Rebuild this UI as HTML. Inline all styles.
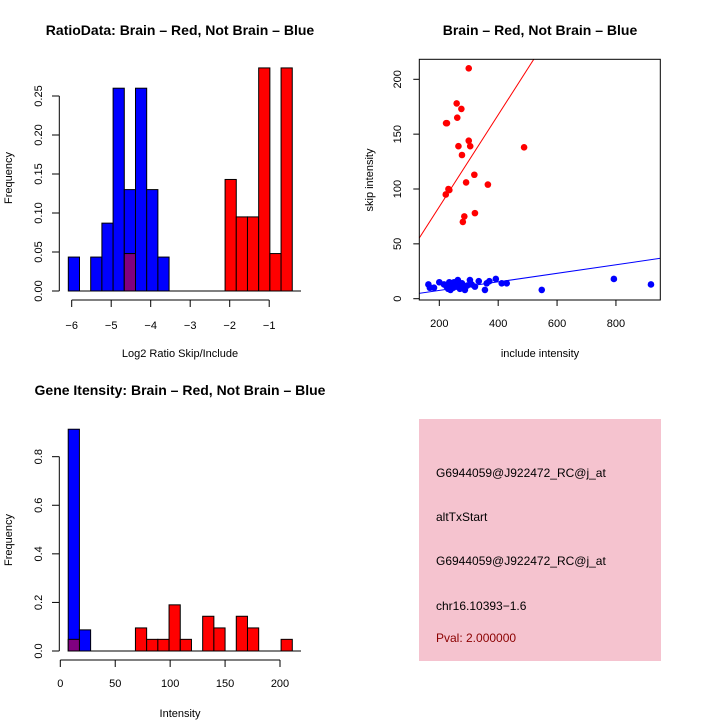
<!DOCTYPE html>
<html><head><meta charset="utf-8"><style>
body{margin:0;background:#fff;}
svg{display:block;font-family:"Liberation Sans",sans-serif;}
</style></head><body>
<svg id="s" width="720" height="720" viewBox="0 0 720 720">
<rect width="720" height="720" fill="#fff"/>
</svg>
<script>
// Panel 1: log2 ratio histogram
const ratioBinStart = -6.086, ratioBinWidth = 0.2835;
const ratioBlue = [0.0435,0,0.0435,0.087,0.26,0.13,0.26,0.13,0.0435];
const ratioRedStartBin = 14;
const ratioRed = [0.143,0.095,0.095,0.286,0.048,0.286];
const ratioOverlapBin = 5, ratioOverlap = 0.048;
const ratioXTicks = [-6,-5,-4,-3,-2,-1];
const ratioYTicks = ["0.00","0.05","0.10","0.15","0.20","0.25"];
// Panel 2: scatter
const redX = [300,259,275,261,223,226,300,265,305,277,488,319,291,365,231,234,222,285,280,321];
const redY = [210,178,173,165,160,160,144,139,139,131,138,113,106,104,100,99,95,75,70,78];
const blueX = [163,168,182,200,216,225,234,238,247,254,263,270,277,287,295,304,321,334,355,361,370,392,412,429,548,793,919,240,258,283,230,250,268,310];
const blueY = [13,10,10,15,13,11,15,8,10,12,17,9,14,8,12,17,11,16,8,14,16,18,14,14,8,18,13,13,11,10,9,15,12,13];
const redLine = [0,0.419];
const blueLine = [-0.25,0.039];
const scatXTicks = [200,400,600,800];
const scatYTicks = [0,50,100,150,200];
// Panel 3: intensity histogram
const intBinStart = 7.2, intBinWidth = 10.2;
const intBlue = [0.913,0.087];
const intRedStartBin = 6;
const intRed = [0.095,0.048,0.048,0.19,0.048,0,0.143,0.095,0,0.143,0.095,0,0,0.048];
const intOverlapBin = 0, intOverlap = 0.048;
const intXTicks = [0,50,100,150,200];
const intYTicks = ["0.0","0.2","0.4","0.6","0.8"];

const S = document.getElementById('s');
const NS = 'http://www.w3.org/2000/svg';
function mk(tag, a, txt){const e=document.createElementNS(NS,tag);for(const k in a)e.setAttribute(k,a[k]);if(txt!=null)e.textContent=txt;S.appendChild(e);return e;}
function line(x1,y1,x2,y2,c,w){return mk('line',{x1,y1,x2,y2,stroke:c||'#000','stroke-width':w||1});}

// ---------- Panel 1 ----------
const p1x = v => 71.7 + (v + 6) * 39.5;
const p1y = v => 291 - v * 780;
function hbar(x0,x1,h,fill,ymap,name){
  const r = mk('rect',{x:x0,y:ymap(h),width:x1-x0,height:ymap(0)-ymap(h),fill,stroke:'#000','stroke-width':1});
  
  
}
ratioBlue.forEach((h,i)=>{ if(h>0){ const a=ratioBinStart+i*ratioBinWidth; hbar(p1x(a),p1x(a+ratioBinWidth),h,'#0000ff',p1y,'blue-bar-'+i);} });
ratioRed.forEach((h,i)=>{ if(h>0){ const a=ratioBinStart+(ratioRedStartBin+i)*ratioBinWidth; hbar(p1x(a),p1x(a+ratioBinWidth),h,'#ff0000',p1y,'red-bar-'+i);} });
{const a=ratioBinStart+ratioOverlapBin*ratioBinWidth; hbar(p1x(a),p1x(a+ratioBinWidth),ratioOverlap,'#800080',p1y,'overlap-bar');}
line(p1x(ratioBinStart),291,301,291);
line(59.3,p1y(0),59.3,p1y(0.25));
ratioYTicks.forEach(t=>{const y=p1y(+t);line(52,y,59.3,y);const tx=mk('text',{x:42,y:y,'font-size':11,'text-anchor':'middle',transform:`rotate(-90 42 ${y})`},t);});
line(p1x(-6),300,p1x(-1),300);
ratioXTicks.forEach(t=>{const x=p1x(t);line(x,300,x,307);mk('text',{x:x,y:329,'font-size':11,'text-anchor':'middle'},'\u2212'+Math.abs(t));});
mk('text',{x:180,y:35,'font-size':14,'font-weight':'bold','text-anchor':'middle'},'RatioData: Brain \u2013 Red, Not Brain \u2013 Blue');
mk('text',{x:180,y:357,'font-size':11,'text-anchor':'middle'},'Log2 Ratio Skip/Include');
mk('text',{x:12,y:178,'font-size':11,'text-anchor':'middle',transform:'rotate(-90 12 178)'},'Frequency');

// ---------- Panel 2 ----------
const L=419.3,R=660.3,T=59.3,B=300;
const p2x = v => 439.3 + (v - 200) * 0.2944;
const p2y = v => 298.7 - v * 1.097;
const cp = mk('clipPath',{id:'cp'}); const cr=document.createElementNS(NS,'rect');
cr.setAttribute('x',L);cr.setAttribute('y',T);cr.setAttribute('width',R-L);cr.setAttribute('height',B-T);cp.appendChild(cr);
function fitLine(c,col,name){const xa=100,xb=1000;const l=mk('line',{x1:p2x(xa),y1:p2y(c[0]+c[1]*xa),x2:p2x(xb),y2:p2y(c[0]+c[1]*xb),stroke:col,'stroke-width':1,'clip-path':'url(#cp)'});}
fitLine(redLine,'#ff0000','red-fit-line');
fitLine(blueLine,'#0000ff','blue-fit-line');
redX.forEach((x,i)=>{const c=mk('circle',{cx:p2x(x),cy:p2y(redY[i]),r:3.3,fill:'#ff0000'});});
blueX.forEach((x,i)=>{const c=mk('circle',{cx:p2x(x),cy:p2y(blueY[i]),r:3.3,fill:'#0000ff'});});
mk('rect',{x:L,y:T,width:R-L,height:B-T,fill:'none',stroke:'#000','stroke-width':1});
scatXTicks.forEach(t=>{const x=p2x(t);line(x,B,x,B+6);mk('text',{x:x,y:327,'font-size':11,'text-anchor':'middle'},t);});
scatYTicks.forEach(t=>{const y=p2y(t);line(L-6,y,L,y);mk('text',{x:401,y:y,'font-size':11,'text-anchor':'middle',transform:`rotate(-90 401 ${y})`},t);});
mk('text',{x:540,y:35,'font-size':14,'font-weight':'bold','text-anchor':'middle'},'Brain \u2013 Red, Not Brain \u2013 Blue');
mk('text',{x:540,y:357,'font-size':11,'text-anchor':'middle'},'include intensity');
mk('text',{x:373,y:180,'font-size':11,'text-anchor':'middle',transform:'rotate(-90 373 180)'},'skip intensity');

// ---------- Panel 3 ----------
const p3x = v => 60.3 + v * 1.0985;
const p3y = v => 651 - v * 242.9;
intBlue.forEach((h,i)=>{ if(h>0){const a=intBinStart+i*intBinWidth; hbar(p3x(a),p3x(a+intBinWidth),h,'#0000ff',p3y,'int-blue-bar-'+i);} });
intRed.forEach((h,i)=>{ if(h>0){const a=intBinStart+(intRedStartBin+i)*intBinWidth; hbar(p3x(a),p3x(a+intBinWidth),h,'#ff0000',p3y,'int-red-bar-'+i);} });
{const a=intBinStart+intOverlapBin*intBinWidth; hbar(p3x(a),p3x(a+intBinWidth),intOverlap,'#800080',p3y,'int-overlap-bar');}
line(p3x(intBinStart),651,301,651);
line(59.3,p3y(0),59.3,p3y(0.8));
intYTicks.forEach(t=>{const y=p3y(+t);line(52,y,59.3,y);mk('text',{x:42,y:y,'font-size':11,'text-anchor':'middle',transform:`rotate(-90 42 ${y})`},t);});
line(p3x(0),660,p3x(200),660);
intXTicks.forEach(t=>{const x=p3x(t);line(x,660,x,667);mk('text',{x:x,y:687,'font-size':11,'text-anchor':'middle'},t);});
mk('text',{x:180,y:395,'font-size':14,'font-weight':'bold','text-anchor':'middle'},'Gene Itensity: Brain \u2013 Red, Not Brain \u2013 Blue');
mk('text',{x:180,y:717,'font-size':11,'text-anchor':'middle'},'Intensity');
mk('text',{x:12,y:540,'font-size':11,'text-anchor':'middle',transform:'rotate(-90 12 540)'},'Frequency');

// ---------- Info box ----------
const box = mk('rect',{x:419,y:419,width:242,height:242,fill:'#f5c3cf'});

[['G6944059@J922472_RC@j_at',477,'#000'],['altTxStart',521,'#000'],['G6944059@J922472_RC@j_at',565,'#000'],['chr16.10393\u22121.6',610,'#000'],['Pval: 2.000000',642,'#8b0000']].forEach(([t,y,c])=>{
  const e=mk('text',{x:436,y:y,'font-size':12,fill:c},t);
  
});
</script>
</body></html>
